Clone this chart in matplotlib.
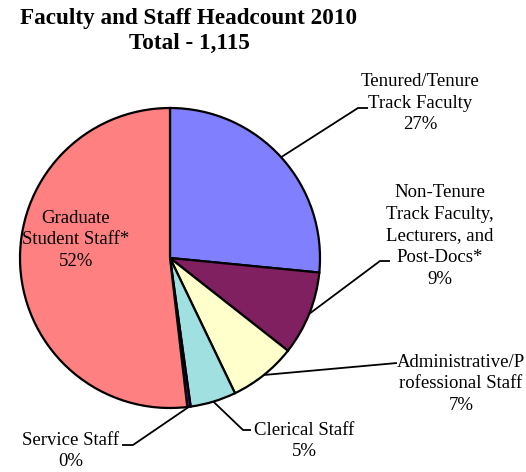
import numpy as np
import matplotlib
matplotlib.use("Agg")
import matplotlib.pyplot as plt

plt.rcParams['font.family'] = ['Liberation Serif', 'DejaVu Serif']

# headcount by group (total 1,115), clockwise from 12 o'clock
groups = ["Tenured/Tenure\nTrack Faculty",
          "Non-Tenure\nTrack Faculty,\nLecturers, and\nPost-Docs*",
          "Administrative/P\nrofessional Staff",
          "Clerical Staff",
          "Service Staff",
          "Graduate\nStudent Staff*"]
counts = [296, 101, 81, 55, 4, 578]
colors = ["#8080FF", "#802060", "#FFFFCC", "#A0E0E0", "#660099", "#FF8080"]

fig = plt.figure(figsize=(5.26, 4.72), dpi=100)
ax = fig.add_axes([0, 0, 1, 1])

cx, cy, r = 170, 258, 150
# y axis is flipped, so counterclock in data = clockwise on screen
wedges, _ = ax.pie(counts, colors=colors, center=(cx, cy), radius=r,
                   startangle=-90, counterclock=True, frame=True,
                   wedgeprops=dict(edgecolor='black', linewidth=1.6))
ax.set_xlim(0, 526)
ax.set_ylim(472, 0)
ax.set_aspect('equal')
ax.axis('off')

pct = [round(100 * c / sum(counts)) for c in counts]

# label layout: text centre, elbow point, end of horizontal stub
layout = [
    ((420, 103), (358, 108), (368, 108)),
    ((440, 236), (380, 261), (390, 261)),
    ((461, 384), (397, 363), (397, 363)),
    ((304, 441), (243, 430), (251, 430)),
    ((71, 451), (133, 445), (122, 445)),
    ((76, 240), None, None),
]

for w, name, p, (txy, elbow, stub) in zip(wedges, groups, pct, layout):
    label = name + "\n" + f"{p}%"
    ax.text(txy[0], txy[1], label, ha='center', va='center',
            fontsize=13.5, linespacing=1.35, color='black')
    if elbow is not None:
        mid = np.deg2rad((w.theta1 + w.theta2) / 2)
        px = cx + r * np.cos(mid)
        py = cy + r * np.sin(mid)
        ax.plot([px, elbow[0], stub[0]], [py, elbow[1], stub[1]],
                color='black', linewidth=1.3, solid_capstyle='butt')

ax.text(189, 31, "Faculty and Staff Headcount 2010\nTotal - 1,115",
        ha='center', va='center', fontsize=16.7, fontweight='bold',
        linespacing=1.22)

fig.savefig("out.png", dpi=100)
